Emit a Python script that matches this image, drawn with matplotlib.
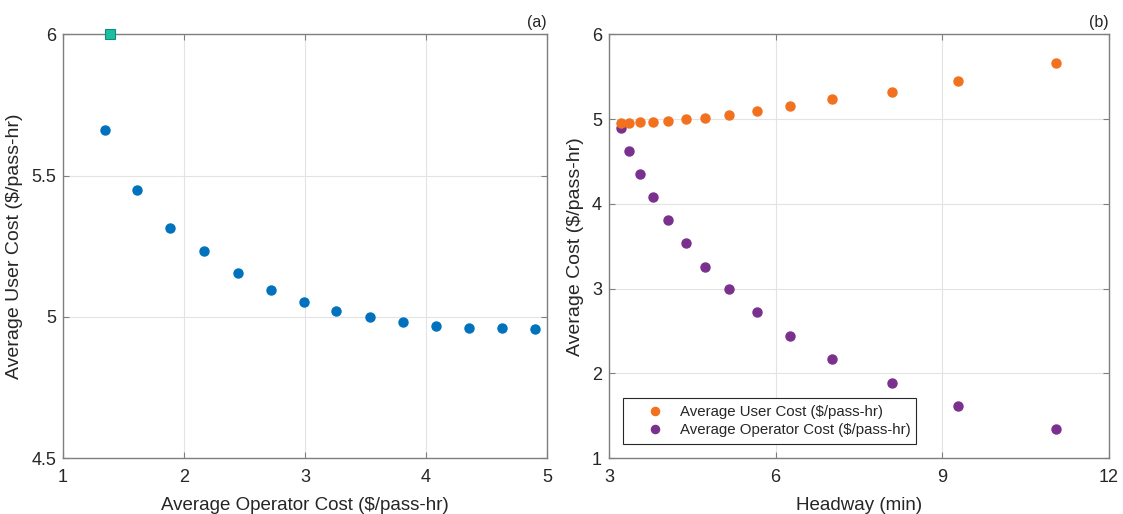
import matplotlib
matplotlib.use("Agg")
import matplotlib.pyplot as plt

plt.rcParams['font.family'] = ['Liberation Sans', 'DejaVu Sans']

# Headway-sweep results (one entry per headway)
headway_min = [3.22, 3.36, 3.56, 3.80, 4.07, 4.38, 4.73, 5.16, 5.67, 6.26, 7.02, 8.10, 9.28, 11.05]
operator_cost = [4.90, 4.63, 4.355, 4.08, 3.81, 3.54, 3.26, 2.99, 2.72, 2.445, 2.167, 1.886, 1.612, 1.344]
user_cost = [4.957, 4.960, 4.962, 4.969, 4.980, 4.998, 5.020, 5.052, 5.095, 5.155, 5.233, 5.316, 5.450, 5.660]

# Reference (non-optimised) operating point
ref_operator_cost = [1.39]
ref_user_cost = [6.0]

blue = '#0072BD'
orange = '#F2711F'
purple = '#7A318E'
teal = '#1DBFA3'
spine_col = '#7F7F7F'
text_col = '#262626'

fig = plt.figure(figsize=(11.23, 5.14), dpi=100)
ax1 = fig.add_axes([0.0561, 0.1089, 0.4310, 0.8240])
ax2 = fig.add_axes([0.5423, 0.1089, 0.4452, 0.8240])


def style(ax):
    for s in ax.spines.values():
        s.set_color(spine_col)
        s.set_linewidth(1.0)
    ax.tick_params(direction='in', top=True, right=True, length=4,
                   color=spine_col, labelcolor=text_col, labelsize=13)
    ax.tick_params(axis='x', pad=8)
    ax.tick_params(axis='y', pad=5)
    ax.grid(True, color='#E3E3E3', linewidth=0.8)
    ax.set_axisbelow(True)


# (a) user cost versus operator cost
ax1.plot(operator_cost, user_cost, 'o', color=blue, markersize=6.5, linestyle='none', clip_on=False)
ax1.plot(ref_operator_cost, ref_user_cost, 's', color=teal, markeredgecolor='#128C78',
         markersize=6.5, markeredgewidth=0.8, clip_on=False, zorder=5)
ax1.set_xlim(1, 5)
ax1.set_ylim(4.5, 6)
ax1.set_xticks([1, 2, 3, 4, 5])
ax1.set_yticks([4.5, 5, 5.5, 6])
ax1.set_yticklabels(['4.5', '5', '5.5', '6'])
ax1.set_xlabel('Average Operator Cost ($/pass-hr)', fontsize=13.5, color=text_col, labelpad=8)
ax1.set_ylabel('Average User Cost ($/pass-hr)', fontsize=14, color=text_col, labelpad=6)
style(ax1)
ax1.text(1.0, 1.01, '(a)', transform=ax1.transAxes, ha='right', va='bottom',
         fontsize=11.5, color=text_col)

# (b) costs versus headway
ax2.plot(headway_min, user_cost, 'o', color=orange, markersize=6.5, linestyle='none',
         label='Average User Cost ($/pass-hr)', zorder=4)
ax2.plot(headway_min, operator_cost, 'o', color=purple, markersize=6.5, linestyle='none',
         label='Average Operator Cost ($/pass-hr)', zorder=3)
ax2.set_xlim(3, 12)
ax2.set_ylim(1, 6)
ax2.set_xticks([3, 6, 9, 12])
ax2.set_yticks([1, 2, 3, 4, 5, 6])
ax2.set_xlabel('Headway (min)', fontsize=13.5, color=text_col, labelpad=8)
ax2.set_ylabel('Average Cost ($/pass-hr)', fontsize=14, color=text_col, labelpad=6)
style(ax2)
ax2.text(1.0, 1.01, '(b)', transform=ax2.transAxes, ha='right', va='bottom',
         fontsize=11.5, color=text_col)
leg = ax2.legend(loc='lower left', bbox_to_anchor=(0.028, 0.033, 0.586, 0.08),
                 mode='expand', borderaxespad=0, fontsize=10.8, markerscale=0.9,
                 frameon=True, fancybox=False, edgecolor='#262626', framealpha=1,
                 handletextpad=0.05, borderpad=0.47, labelspacing=0.27, handlelength=3.3)
leg.get_frame().set_linewidth(0.8)
for t in leg.get_texts():
    t.set_color(text_col)

fig.savefig('out.png', dpi=100)
